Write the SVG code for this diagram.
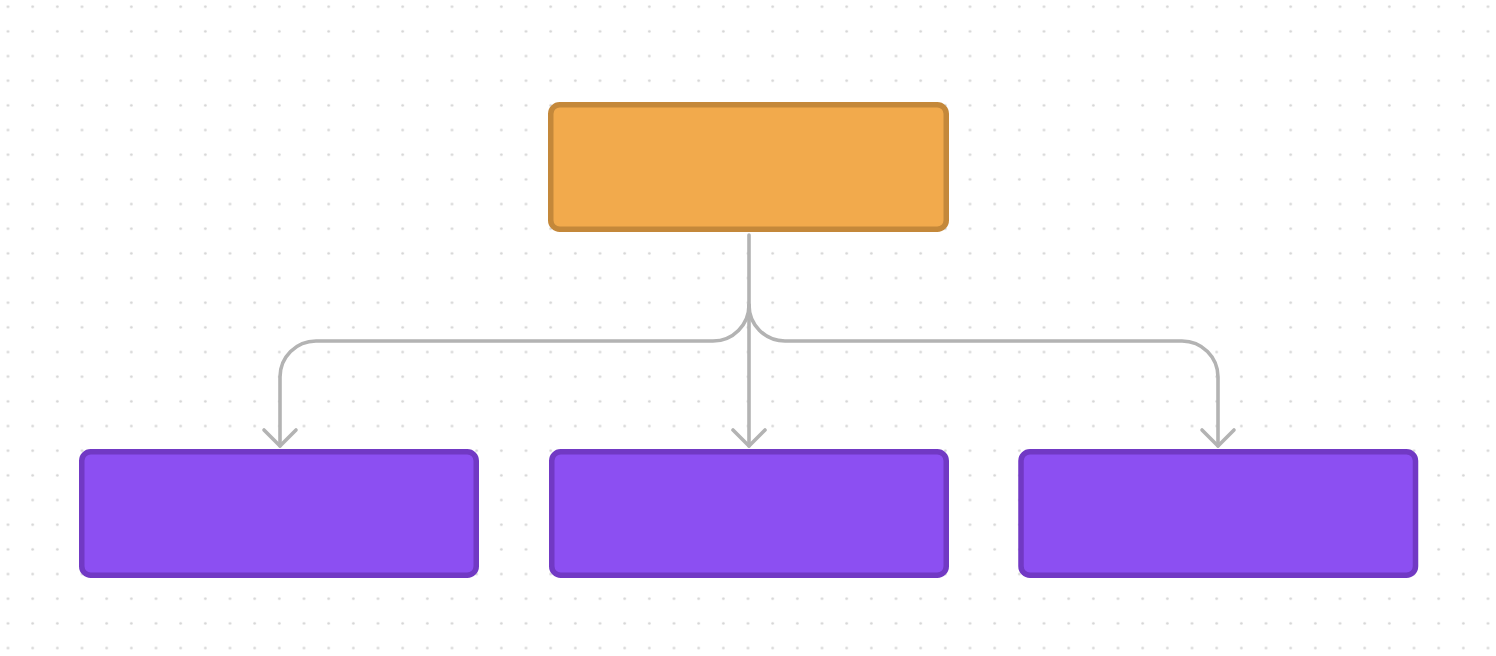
<svg xmlns="http://www.w3.org/2000/svg" width="1496" height="656" viewBox="0 0 1496 656">
  <defs>
    <pattern id="dots" patternUnits="userSpaceOnUse" x="-4.33" y="-5.63" width="24.667" height="24.667">
      <circle cx="12.33" cy="12.33" r="1.35" fill="#d4d4d4"/>
    </pattern>
    <style>
      .parent { fill: #F2AA4C; stroke: #C4883A; stroke-width: 5.5; }
      .child { fill: #8C4FF2; stroke: #7139C4; stroke-width: 5.5; }
      .conn { fill: none; stroke: #b3b3b3; stroke-width: 3.6; stroke-linecap: round; stroke-linejoin: round; }
    </style>
  </defs>
  <rect width="1496" height="656" fill="#ffffff"/>
  <rect width="1496" height="656" fill="url(#dots)"/>

  <g id="connectors">
    <path class="conn" d="M749 235 V446"/>
    <path class="conn" d="M749 305 A36 36 0 0 1 713 341 H316 A36 36 0 0 0 280 377 V446"/>
    <path class="conn" d="M749 305 A36 36 0 0 0 785 341 H1182 A36 36 0 0 1 1218 377 V446"/>
    <path class="conn" d="M264 430 L280 446 L296 430"/>
    <path class="conn" d="M733 430 L749 446 L765 430"/>
    <path class="conn" d="M1202 430 L1218 446 L1234 430"/>
  </g>

  <g id="node-root">
    <rect class="parent" x="550.75" y="104.75" width="395.5" height="124.5" rx="9"/>
  </g>
  <g id="node-child-1">
    <rect class="child" x="81.75" y="451.75" width="394.5" height="123.5" rx="9"/>
  </g>
  <g id="node-child-2">
    <rect class="child" x="551.75" y="451.75" width="394.5" height="123.5" rx="9"/>
  </g>
  <g id="node-child-3">
    <rect class="child" x="1021" y="451.75" width="394.5" height="123.5" rx="9"/>
  </g>
</svg>
